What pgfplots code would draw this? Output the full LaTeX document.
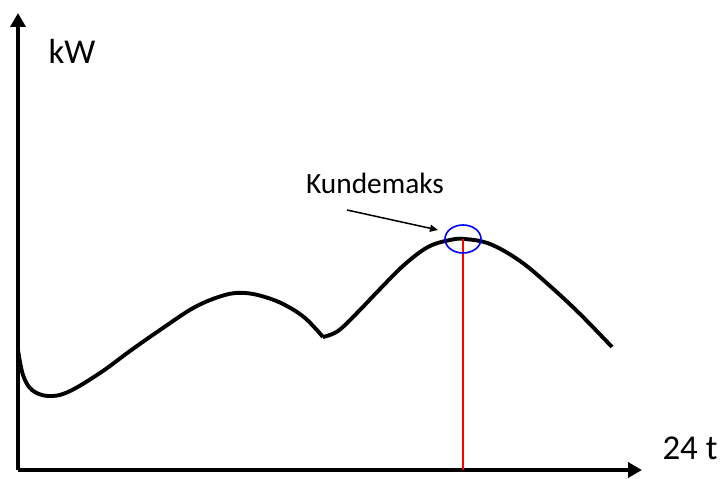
\documentclass[border=0pt]{standalone}
\usepackage{pgfplots}
\pgfplotsset{compat=1.18}
\usepackage{fontspec}
\setmainfont{Carlito}
\usetikzlibrary{arrows.meta}

\begin{document}
\begin{tikzpicture}
\begin{axis}[
  scale only axis,
  width=624bp, height=457bp,
  xmin=18, xmax=642, ymin=9, ymax=466,
  axis x line=bottom, axis y line=left,
  axis line style={line width=3.6bp, -{Triangle[length=14bp,width=15bp]}},
  xtick=\empty, ytick=\empty,
  clip=false,
]
% canvas extent
\path (axis cs:0,0) rectangle (axis cs:724,479);

% load curve: morning dip, first hump, then the daily peak
\addplot[black, line width=3.9bp, smooth, tension=0.6] coordinates {
  (18,129) (23,104) (32,89) (48,83) (68,87) (100,106) (130,128)
  (160,149) (195,172) (225,184) (245,186) (265,182) (285,174)
  (305,161) (323,142)
};
\addplot[black, line width=3.9bp, smooth, tension=0.6] coordinates {
  (323,142) (338,148) (357,166) (380,190) (404,214) (428,232)
  (450,239) (465,240) (490,235) (520,218) (550,193) (580,165) (612,132)
};

% drop line from the peak to the time axis
\addplot[red, line width=1.6bp] coordinates {(463,9) (463,240)};

% peak marker and annotation
\draw[blue, line width=1.6bp] (axis cs:463,240) ellipse [x radius=18bp, y radius=14bp];
\draw[line width=1.5bp, -{Triangle[length=8bp,width=7bp]}] (axis cs:347,269) -- (axis cs:438,249);
\node[font=\fontsize{29.5}{32}\selectfont] at (axis cs:375,296) {Kundemaks};

% axis captions
\node[font=\fontsize{35}{40}\selectfont] at (axis cs:72,428) {kW};
\node[font=\fontsize{35}{40}\selectfont] at (axis cs:690,31) {24 t};
\end{axis}
\end{tikzpicture}
\end{document}
